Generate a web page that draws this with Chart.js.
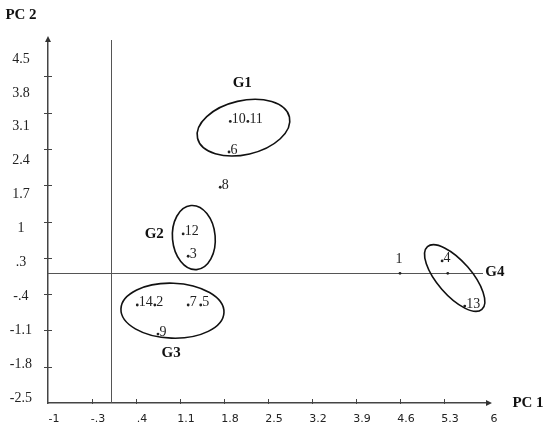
<!DOCTYPE html>
<html>
<head>
<meta charset="utf-8">
<script src="https://cdn.jsdelivr.net/npm/chart.js@4"></script>
<style>
  html, body { margin: 0; padding: 0; background: #fff; }
  #wrap { width: 550px; height: 433px; position: relative; }
</style>
</head>
<body>
<div id="wrap"><canvas id="pcaChart"></canvas></div>
<script>
// samples (PC1 / PC2 scores)
const pointNames = ['1', '2', '3', '4', '5', '6', '7', '8', '9', '10', '11', '12', '13', '14'];
const pc1 = [4.6, 0.7, 1.23, 5.27, 1.43, 1.88, 1.23, 1.74, 0.75, 1.9, 2.18, 1.15, 5.63, 0.42];
const pc2 = [0, -0.61, 0.33, 0.24, -0.61, 2.34, -0.61, 1.66, -1.17, 2.93, 2.93, 0.76, -0.63, -0.61];

// unlabeled mark sitting on the PC1 line
const extraX = [5.36];
const extraY = [0];

// groups circled on the plot
const groupNames = ['G1', 'G2', 'G3', 'G4'];
const groupCx = [2.11, 1.32, 0.98, 5.47];
const groupCy = [2.81, 0.69, -0.72, -0.09];
const groupRx = [0.75, 0.34, 0.82, 0.66];
const groupRy = [0.52, 0.62, 0.53, 0.33];
const groupTilt = [-13, -5, 2, 49];
const groupLabelX = [2.09, 0.69, 0.96, 6.11];
const groupLabelY = [3.67, 0.76, -1.54, 0.02];

// axes
const xTickValues = [-1, -0.3, 0.4, 1.1, 1.8, 2.5, 3.2, 3.9, 4.6, 5.3, 6];
const xTickLabels = ['-1', '-.3', '.4', '1.1', '1.8', '2.5', '3.2', '3.9', '4.6', '5.3', '6'];
const yTickValues = [-2.5, -1.8, -1.1, -0.4, 0.3, 1, 1.7, 2.4, 3.1, 3.8, 4.5];
const yTickLabels = ['-2.5', '-1.8', '-1.1', '-.4', '.3', '1', '1.7', '2.4', '3.1', '3.8', '4.5'];

const labelAbove = ['1'];
const serif = '"Liberation Serif", "Times New Roman", serif';

const pcaDecor = {
  id: 'pcaDecor',
  beforeDatasetsDraw(chart) {
    const { ctx, scales: { x, y } } = chart;
    ctx.save();
    ctx.strokeStyle = '#555';
    ctx.lineWidth = 1;
    // zero lines
    const x0 = Math.round(x.getPixelForValue(0)) + 0.5;
    const y0 = Math.round(y.getPixelForValue(0)) + 0.5;
    ctx.beginPath();
    ctx.moveTo(x0, y.top);
    ctx.lineTo(x0, y.bottom);
    ctx.moveTo(x.left, y0);
    ctx.lineTo(x.getPixelForValue(5.92), y0);
    ctx.stroke();
    ctx.restore();
  },
  afterDatasetsDraw(chart) {
    const { ctx, scales: { x, y } } = chart;
    const sx = (x.right - x.left) / (x.max - x.min);
    const sy = (y.bottom - y.top) / (y.max - y.min);
    ctx.save();

    // tick marks
    ctx.strokeStyle = '#444';
    ctx.lineWidth = 1;
    ctx.beginPath();
    xTickValues.slice(1, -1).forEach(v => {
      const px = Math.round(x.getPixelForValue(v)) + 0.5;
      ctx.moveTo(px, y.bottom - 4);
      ctx.lineTo(px, y.bottom + 1);
    });
    yTickValues.slice(1, -1).forEach(v => {
      const py = Math.round(y.getPixelForValue(v)) + 0.5;
      ctx.moveTo(x.left - 4, py);
      ctx.lineTo(x.left + 4, py);
    });
    ctx.stroke();

    // arrow heads
    ctx.fillStyle = '#333';
    ctx.beginPath();
    ctx.moveTo(x.left, y.top - 4);
    ctx.lineTo(x.left - 3, y.top + 2);
    ctx.lineTo(x.left + 3, y.top + 2);
    ctx.closePath();
    ctx.moveTo(x.right + 4, y.bottom);
    ctx.lineTo(x.right - 2, y.bottom - 3);
    ctx.lineTo(x.right - 2, y.bottom + 3);
    ctx.closePath();
    ctx.fill();

    // group ellipses
    ctx.strokeStyle = '#111';
    ctx.lineWidth = 1.6;
    groupNames.forEach((g, i) => {
      ctx.beginPath();
      ctx.ellipse(x.getPixelForValue(groupCx[i]), y.getPixelForValue(groupCy[i]),
        groupRx[i] * sx, groupRy[i] * sy, groupTilt[i] * Math.PI / 180, 0, Math.PI * 2);
      ctx.stroke();
    });

    // point labels
    ctx.fillStyle = '#222';
    ctx.font = '14px ' + serif;
    ctx.textBaseline = 'alphabetic';
    pointNames.forEach((n, i) => {
      const px = x.getPixelForValue(pc1[i]);
      const py = y.getPixelForValue(pc2[i]);
      if (labelAbove.includes(n)) {
        ctx.textAlign = 'center';
        ctx.fillText(n, px - 1, py - 10);
      } else {
        ctx.textAlign = 'left';
        ctx.fillText(n, px + 1.5, py + 1.5);
      }
    });

    // group names
    ctx.font = 'bold 15px ' + serif;
    ctx.textAlign = 'center';
    ctx.textBaseline = 'middle';
    ctx.fillStyle = '#111';
    groupNames.forEach((g, i) => {
      ctx.fillText(g, x.getPixelForValue(groupLabelX[i]), y.getPixelForValue(groupLabelY[i]));
    });

    // axis titles
    ctx.fillText('PC 1', x.right + 40, y.bottom);
    ctx.fillText('PC 2', x.left - 27, y.top - 25);
    ctx.restore();
  }
};

const ctx = document.getElementById('pcaChart').getContext('2d');
new Chart(ctx, {
  type: 'scatter',
  data: {
    datasets: [{
      data: pc1.map((v, i) => ({ x: v, y: pc2[i] })),
      pointRadius: 1.4,
      pointBackgroundColor: '#222',
      pointBorderWidth: 0
    }, {
      data: extraX.map((v, i) => ({ x: v, y: extraY[i] })),
      pointRadius: 1.4,
      pointBackgroundColor: '#222',
      pointBorderWidth: 0
    }]
  },
  options: {
    responsive: true,
    maintainAspectRatio: false,
    animation: false,
    layout: { padding: { top: 40, right: 62, bottom: 0, left: 0 } },
    plugins: { legend: { display: false }, tooltip: { enabled: false } },
    scales: {
      x: {
        type: 'linear',
        min: -1,
        max: 6,
        afterBuildTicks: s => { s.ticks = xTickValues.map(v => ({ value: v })); },
        afterFit: s => { s.height = 30; },
        ticks: {
          autoSkip: false,
          maxRotation: 0,
          padding: 10,
          labelOffset: 6,
          color: '#222',
          font: { family: '"DejaVu Sans", Verdana, sans-serif', size: 11 },
          callback: (v, i) => xTickLabels[i]
        },
        grid: { display: false, drawTicks: false },
        border: { color: '#444', width: 1.5 }
      },
      y: {
        type: 'linear',
        position: 'left',
        weight: 0,
        min: -2.5,
        max: 4.5,
        afterFit: s => { s.width = 4; },
        ticks: { display: false },
        grid: { display: false, drawTicks: false },
        border: { color: '#444', width: 1.5 }
      },
      // labels sit a little off the tick marks in the original, so they get their own scale
      yLab: {
        type: 'linear',
        position: 'left',
        weight: 1,
        min: -2.603,
        max: 4.892,
        afterBuildTicks: s => { s.ticks = yTickValues.map(v => ({ value: v })); },
        afterFit: s => { s.width = 44; },
        ticks: {
          autoSkip: false,
          crossAlign: 'center',
          padding: 12,
          color: '#222',
          font: { family: serif, size: 14 },
          callback: (v, i) => yTickLabels[i]
        },
        grid: { display: false, drawTicks: false },
        border: { display: false }
      }
    }
  },
  plugins: [pcaDecor]
});
</script>
</body>
</html>
